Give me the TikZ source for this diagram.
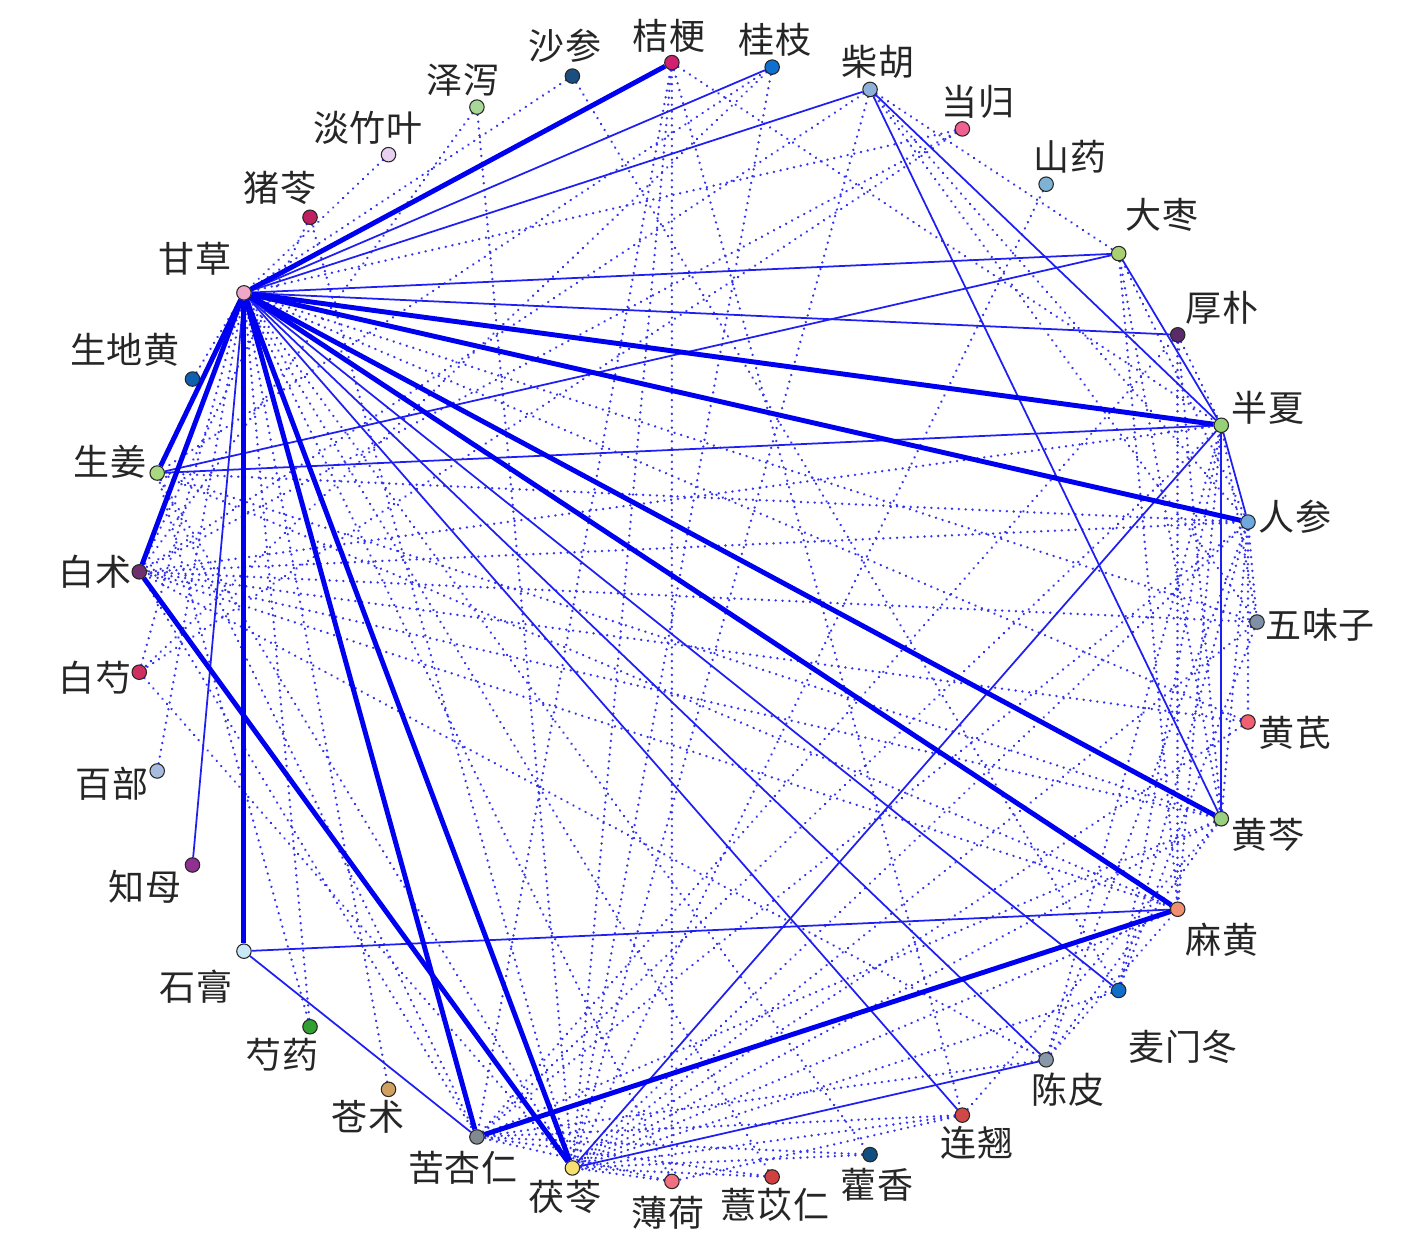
\documentclass[tikz,border=0pt]{standalone}
\usepackage{fontspec}
\newfontfamily\cjk{Noto Sans CJK SC}
\usetikzlibrary{backgrounds}
\definecolor{cwwz}{HTML}{7F8FA6}
\definecolor{crs}{HTML}{6FA8DC}
\definecolor{cbx}{HTML}{98D078}
\definecolor{chp}{HTML}{5A2A6A}
\definecolor{cdz}{HTML}{A8D070}
\definecolor{cshy}{HTML}{7FB3D5}
\definecolor{cdg}{HTML}{F06090}
\definecolor{cch}{HTML}{8FB0D8}
\definecolor{cgz}{HTML}{1070D0}
\definecolor{cjg}{HTML}{D0206F}
\definecolor{css}{HTML}{1A4F80}
\definecolor{czx}{HTML}{A8D898}
\definecolor{cdzy}{HTML}{E8D0F0}
\definecolor{czl}{HTML}{C0205F}
\definecolor{cgc}{HTML}{F0A8C8}
\definecolor{csdh}{HTML}{1060B0}
\definecolor{csj}{HTML}{A8D880}
\definecolor{cbz}{HTML}{703070}
\definecolor{cbs}{HTML}{D03060}
\definecolor{cbb}{HTML}{A8BCE0}
\definecolor{czm}{HTML}{903090}
\definecolor{csg}{HTML}{C8E8F8}
\definecolor{csya}{HTML}{30A030}
\definecolor{ccz}{HTML}{D0A060}
\definecolor{ckxr}{HTML}{808890}
\definecolor{cfl}{HTML}{F8E070}
\definecolor{cbh}{HTML}{F07080}
\definecolor{cyyr}{HTML}{D04040}
\definecolor{chx}{HTML}{104F80}
\definecolor{clq}{HTML}{D04848}
\definecolor{ccp}{HTML}{8898A8}
\definecolor{cmmd}{HTML}{1070C8}
\definecolor{cmh}{HTML}{F09070}
\definecolor{chq}{HTML}{98D080}
\definecolor{chqi}{HTML}{F06070}
\definecolor{edgeblue}{HTML}{0000F0}
\begin{document}
\begin{tikzpicture}[x=0.02cm,y=-0.02cm,
  herb/.style={circle,draw=black!85,line width=0.6pt,minimum size=0.29cm,inner sep=0pt},
  lbl/.style={font=\cjk\fontsize{20.5}{20.5}\selectfont,text=black!85,inner sep=0pt},
  strong/.style={draw=edgeblue,line width=2.8pt},
  weak/.style={draw=edgeblue!88!white,line width=1pt},
  faint/.style={draw=edgeblue!80!white,line width=1.5pt,line cap=round,dash pattern=on 0.01pt off 3.9pt}]
\useasboundingbox (0,0) rectangle (1417,1259);
% herb nodes on a circle
\foreach \id/\k in {wwz/0,rs/1,bx/2,hp/3,dz/4,shy/5,dg/6,ch/7,gz/8,jg/9,ss/10,zx/11,dzy/12,zl/13,gc/14,sdh/15,sj/16,bz/17,bs/18,bb/19,zm/20,sg/21,sya/22,cz/23,kxr/24,fl/25,bh/26,yyr/27,hx/28,lq/29,cp/30,mmd/31,mh/32,hq/33,hqi/34}{
  \node[herb,fill=c\id] (\id) at ({697+560*cos(\k*360/35)},{622-560*sin(\k*360/35)}) {};
}
% labels
\node[lbl] (l-jg) at (669,36) {桔梗};
\node[lbl] (l-gz) at (775,40) {桂枝};
\node[lbl] (l-ch) at (878,62) {柴胡};
\node[lbl] (l-dg) at (978,102) {当归};
\node[lbl] (l-shy) at (1070,157) {山药};
\node[lbl] (l-dz) at (1162,215) {大枣};
\node[lbl] (l-hp) at (1222,308) {厚朴};
\node[lbl] (l-bx) at (1268,408) {半夏};
\node[lbl] (l-rs) at (1295,517) {人参};
\node[lbl] (l-wwz) at (1320,625) {五味子};
\node[lbl] (l-hqi) at (1295,733) {黄芪};
\node[lbl] (l-hq) at (1268,835) {黄芩};
\node[lbl] (l-mh) at (1222,940) {麻黄};
\node[lbl] (l-mmd) at (1183,1047) {麦门冬};
\node[lbl] (l-cp) at (1068,1090) {陈皮};
\node[lbl] (l-lq) at (977,1143) {连翘};
\node[lbl] (l-hx) at (877,1185) {藿香};
\node[lbl] (l-yyr) at (775,1205) {薏苡仁};
\node[lbl] (l-bh) at (668,1213) {薄荷};
\node[lbl] (l-fl) at (565,1197) {茯苓};
\node[lbl] (l-kxr) at (463,1168) {苦杏仁};
\node[lbl] (l-cz) at (368,1117) {苍术};
\node[lbl] (l-sya) at (282,1055) {芍药};
\node[lbl] (l-sg) at (196,987) {石膏};
\node[lbl] (l-zm) at (145,887) {知母};
\node[lbl] (l-bb) at (112,784) {百部};
\node[lbl] (l-bs) at (95,678) {白芍};
\node[lbl] (l-bz) at (95,572) {白术};
\node[lbl] (l-sj) at (110,462) {生姜};
\node[lbl] (l-sdh) at (125,350) {生地黄};
\node[lbl] (l-gc) at (195,259) {甘草};
\node[lbl] (l-zl) at (280,188) {猪苓};
\node[lbl] (l-dzy) at (368,128) {淡竹叶};
\node[lbl] (l-zx) at (463,80) {泽泻};
\node[lbl] (l-ss) at (565,46) {沙参};
\begin{scope}[on background layer]
% weak (dotted) links
\foreach \a/\b in {dzy/gc,zl/fl,zl/bz,zx/fl,zx/bz,ss/gc,ss/mmd,jg/bh,jg/kxr,jg/fl,jg/lq,jg/bx,
  gz/fl,gz/sj,gz/bs,ch/dz,ch/fl,ch/rs,ch/wwz,ch/bz,dg/gc,dg/bs,dg/bz,shy/fl,
  dz/hq,dz/rs,dz/mh,hp/kxr,hp/bx,hp/hq,hp/mh,bx/mh,bx/wwz,rs/hq,rs/wwz,rs/hqi,rs/fl,rs/bz,rs/sj,
  wwz/bz,wwz/mmd,wwz/fl,wwz/gc,hqi/bz,hqi/gc,hqi/fl,hq/lq,hq/kxr,hq/fl,hq/sj,hq/bz,
  mh/fl,mh/sj,mh/bz,mmd/bx,mmd/rs,mmd/fl,cp/bx,cp/bz,cp/mh,cp/kxr,cp/rs,cp/hq,
  lq/bh,lq/kxr,lq/fl,hx/fl,hx/kxr,yyr/fl,yyr/kxr,yyr/gc,bh/fl,bh/kxr,bh/gc,
  sdh/gc,sj/kxr,sj/fl,bz/bx,bz/kxr,bs/gc,bs/fl,bb/gc,sya/gc,sya/sj,cz/gc,kxr/bx,kxr/rs,gc/hx}
  \draw[faint] (\a) -- (\b);
% medium (thin solid) links
\foreach \a/\b in {gc/gz,gc/ch,gc/dz,gc/hp,gc/mmd,gc/cp,gc/lq,gc/zm,ch/bx,ch/hq,dz/bx,dz/sj,
  sj/bx,bx/rs,bx/hq,fl/bx,fl/cp,sg/mh,sg/kxr}
  \draw[weak] (\a) -- (\b);
% strong (thick) links
\foreach \a/\b in {gc/jg,gc/bx,gc/rs,gc/hq,gc/mh,gc/fl,gc/kxr,gc/sg,gc/bz,gc/sj,bz/fl,kxr/mh}
  \draw[strong] (\a) -- (\b);
\end{scope}
\end{tikzpicture}
\end{document}
